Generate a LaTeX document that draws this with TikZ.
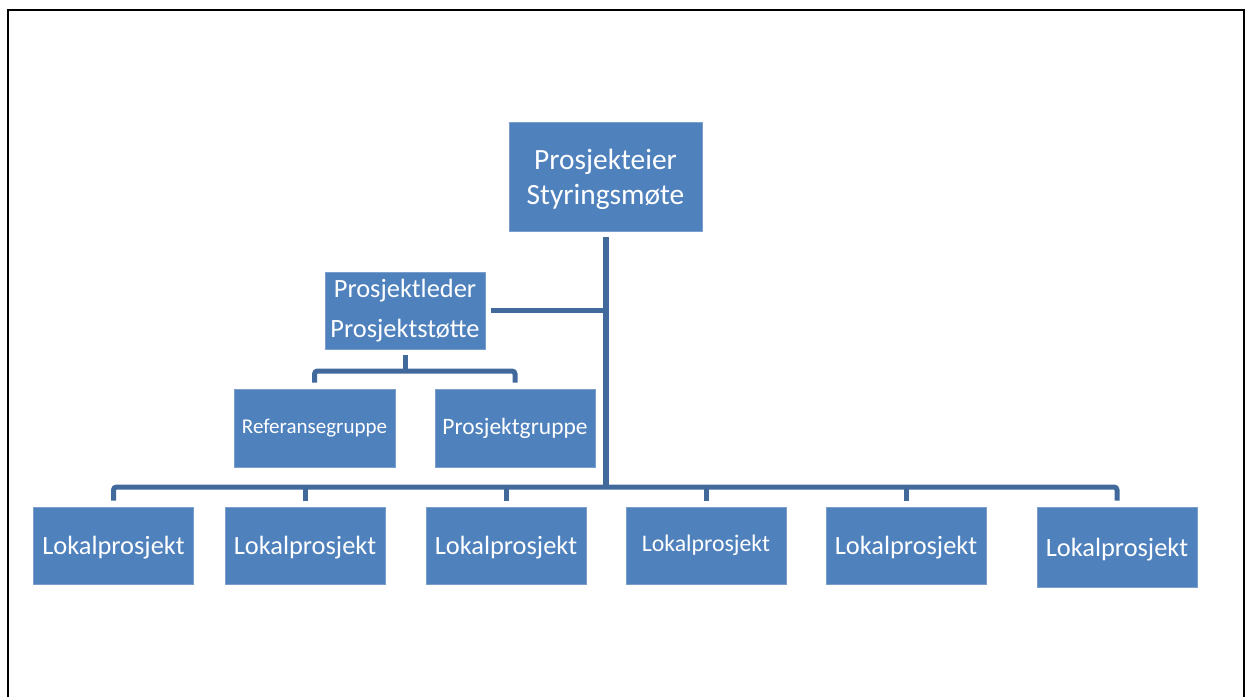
\documentclass[tikz,border=0pt]{standalone}
\usepackage{fontspec}
\setmainfont{Carlito}
\usepackage{xcolor}
\definecolor{boxblue}{HTML}{4F81BD}
\definecolor{boxedge}{HTML}{7A9FCF}
\definecolor{linkblue}{HTML}{41699C}
\usepackage{tikz}
\usetikzlibrary{positioning, calc}

\begin{document}
\begin{tikzpicture}[x=0.5pt, y=-0.5pt,
  box/.style={rectangle, fill=boxblue, draw=boxedge, line width=0.4pt, text=white,
    inner sep=0pt, align=center, minimum width=80pt, minimum height=38.5pt},
  lokal/.style={box, font=\fontsize{13.2}{16}\selectfont, text depth=0pt},
  trunk/.style={linkblue, line width=3pt},
  branch/.style={linkblue, line width=2.5pt}]
  \useasboundingbox (0,0) rectangle (1245,697);
  \draw[black, line width=1pt] (8,697) -- (8,10) -- (1244,10) -- (1244,697);

  \node[box, minimum width=96.5pt, minimum height=54.5pt, text depth=0pt,
        font=\fontsize{14.7}{17.5}\selectfont] (eier) at (605.5,176.5) {Prosjekteier\\Styringsmøte};
  \node[box, font=\fontsize{13.2}{20}\selectfont] (leder) at (405,310.5) {Prosjektleder\\Prosjektstøtte};
  \node[box, minimum width=80.5pt, minimum height=39pt,
        font=\fontsize{10.5}{13}\selectfont] (ref) at (314.5,428) {Referansegruppe};
  \node[box, minimum height=39pt,
        font=\fontsize{11.75}{14}\selectfont] (pgruppe) at (515,428) {Prosjektgruppe};

  \node[lokal] (lokal1) at (113.5,545.5) {Lokalprosjekt};
  \node[lokal] (lokal2) at (305,545.5) {Lokalprosjekt};
  \node[lokal] (lokal3) at (506,545.5) {Lokalprosjekt};
  \node[box, font=\fontsize{11.9}{14}\selectfont] (lokal4) at (706,545.5) {Lokalprosjekt};
  \node[lokal] (lokal5) at (906,545.5) {Lokalprosjekt};
  \node[lokal, minimum height=40pt] (lokal6) at (1117,547) {Lokalprosjekt};

  \coordinate (bus) at (605.5,487);
  \coordinate (split) at (405,371);

  \draw[trunk, shorten <=3pt] (eier.south) -- (eier.south |- bus);
  \draw[branch, shorten <=3pt] (leder.east) -- (leder.east -| eier.south);
  \draw[branch, shorten <=3pt] (leder.south) -- (split);
  \draw[branch, rounded corners=1.5pt, shorten <=3pt, shorten >=3pt]
    (ref.north) -- (ref.north |- split) -- (pgruppe.north |- split) -- (pgruppe.north);
  \draw[branch, rounded corners=1.5pt, shorten <=3pt, shorten >=3pt]
    (lokal1.north) -- (lokal1.north |- bus) -- (lokal6.north |- bus) -- (lokal6.north);
  \foreach \i in {2,...,5}
    \draw[branch, shorten >=3pt] (lokal\i.north |- bus) -- (lokal\i.north);
\end{tikzpicture}
\end{document}
